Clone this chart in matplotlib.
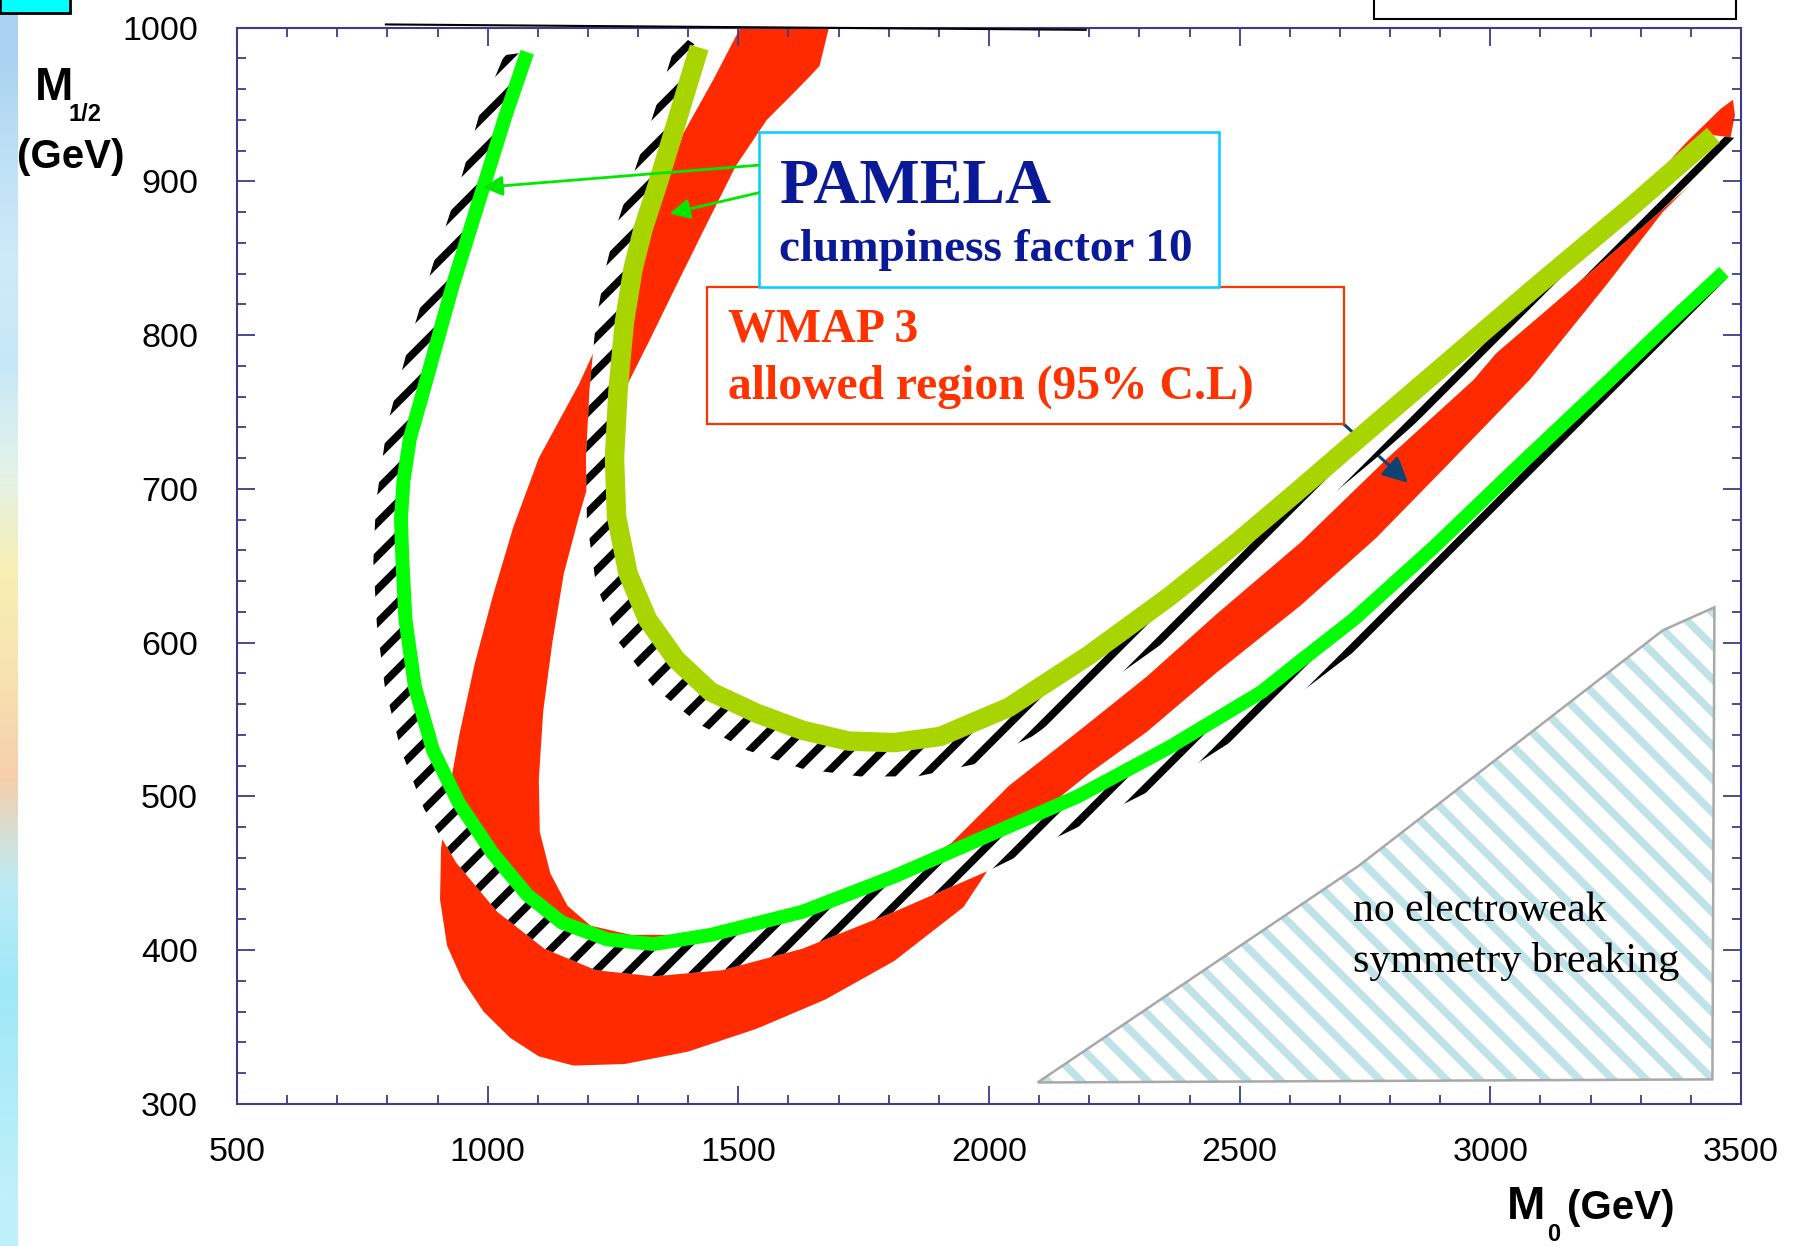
import matplotlib

matplotlib.use("Agg")
import matplotlib.pyplot as plt
import numpy as np
from matplotlib.patches import Polygon, Rectangle
from matplotlib.ticker import MultipleLocator

plt.rcParams["font.family"] = ["Liberation Sans", "DejaVu Sans"]
plt.rcParams["hatch.linewidth"] = 5.5

SERIF = ["Liberation Serif", "DejaVu Serif"]

# --- values (M0, M1/2 in GeV) ---

# PAMELA (clumpiness 10), lower contour - bright green
green_m0 = [1079, 1036, 994, 930, 866, 845, 832, 827, 830, 836, 855, 891, 942, 1010, 1079, 1148,
            1239, 1331, 1445, 1628, 1811, 1994, 2177, 2360, 2544, 2621, 2727, 2887, 3047,
            3239, 3367, 3466]
green_m12 = [984, 943, 899, 832, 757, 733, 705, 680, 653, 615, 571, 530, 496, 463, 436, 418,
             407, 404, 410, 425, 448, 474, 500, 532, 568, 588, 615, 662, 712,
             771, 811, 841]
# outer edge of the hatched band along the green contour
green_hatch_m0 = [1033, 983, 942, 891, 843, 800, 777, 772, 779, 795, 827, 873, 937, 1019,
                  1113, 1216, 1331, 1468, 1628, 1811, 1994, 2177, 2360, 2543, 2740, 2910,
                  3093, 3285, 3459, 3477]
green_hatch_m12 = [982, 943, 896, 846, 794, 742, 690, 653, 612, 571, 530, 492, 457, 425,
                   401, 387, 383, 387, 401, 425, 451, 480, 510, 548, 597, 649,
                   708, 767, 820, 826]

# PAMELA upper contour - yellow green
yellow_m0 = [1422, 1392, 1367, 1340, 1310, 1290, 1273, 1260, 1253, 1257, 1280, 1319, 1376,
             1445, 1537, 1628, 1720, 1811, 1903, 2040, 2200, 2360, 2498, 2621, 2749, 2910,
             3093, 3276, 3445]
yellow_m12 = [987, 955, 928, 899, 869, 843, 809, 764, 720, 682, 645, 615, 589,
              568, 554, 543, 536, 535, 539, 558, 592, 630, 666, 700, 736, 781,
              832, 882, 930]
yellow_hatch_m0 = [1381, 1342, 1315, 1285, 1255, 1235, 1216, 1203, 1196, 1198, 1216, 1262,
                   1331, 1422, 1518, 1628, 1743, 1857, 1971, 2086, 2223, 2383, 2521, 2621,
                   2772, 2932, 3115, 3299, 3459, 3493]
yellow_hatch_m12 = [996, 955, 928, 899, 869, 843, 809, 764, 720, 679, 638, 600,
                    571, 547, 530, 518, 513, 513, 521, 539, 571, 608, 644, 679,
                    720, 766, 817, 869, 915, 928]

# WMAP 3 allowed region (95% C.L.), outline
wmap_m0 = [1509, 1450, 1390, 1324, 1251, 1182, 1102, 1051, 1010, 974, 944, 921, 907,
           905, 919, 949, 992, 1045, 1102, 1171, 1273, 1399, 1537, 1674, 1811, 1949, 2026,
           2109, 2200, 2315, 2452, 2621, 2772, 2910, 3079, 3230, 3344, 3436, 3477, 3488, 3484,
           3459, 3390, 3276, 3115, 2967, 2795, 2621, 2452, 2315, 2177, 2040, 1926, 1811,
           1674, 1537, 1399, 1285, 1205,
           1159, 1125, 1104, 1102, 1111, 1129, 1152, 1182, 1216, 1262, 1319, 1376, 1429,
           1495, 1557, 1603, 1642, 1662, 1683]
wmap_m12 = [1003, 966, 931, 867, 817, 768, 720, 675, 630, 586, 541, 500, 466,
            433, 403, 381, 360, 343, 331, 325, 326, 334, 349, 368, 393, 428, 466,
            491, 515, 542, 580, 624, 668, 714, 771, 832, 880, 910, 925, 943, 953,
            947, 925, 884, 828, 771, 720, 665, 618, 578, 542, 507, 470, 446,
            431, 417, 410, 410, 416,
            429, 450, 477, 511, 556, 600, 645, 682, 720, 757, 794, 832, 867,
            910, 940, 955, 968, 975, 1003]

# no electroweak symmetry breaking
ewsb_m0 = [2097, 2738, 3344, 3447, 3443]
ewsb_m12 = [314, 455, 608, 623, 316]

x_ticks = [500, 1000, 1500, 2000, 2500, 3000, 3500]
y_ticks = [300, 400, 500, 600, 700, 800, 900, 1000]

# slide background strip on the left edge, top -> bottom
strip_colors = ["#a9d2f0", "#bde0f5", "#cdebf8", "#c6e8f6", "#e2f2ea", "#f7efb4",
                "#f8e2b0", "#f6cfac", "#bdebf5", "#9fe8f8", "#aeecf8", "#bff0f9"]

fig = plt.figure(figsize=(17.98, 12.46), dpi=100)

# decorative strip of the slide background
sax = fig.add_axes([0, 0, 18 / 1798, 1])
rgb = np.array([matplotlib.colors.to_rgb(c) for c in strip_colors]).reshape(-1, 1, 3)
sax.imshow(rgb, aspect="auto", interpolation="bilinear")
sax.axis("off")

ax = fig.add_axes([0.13181, 0.11396, 0.83648, 0.86396])
ax.set_xlim(500, 3500)
ax.set_ylim(300, 1000)

# WMAP region
ax.add_patch(Polygon(np.column_stack([wmap_m0, wmap_m12]), closed=True,
                     facecolor="#ff2a00", edgecolor="none", zorder=1))

# EWSB excluded region
ewsb = np.column_stack([ewsb_m0, ewsb_m12])
ax.add_patch(Polygon(ewsb, closed=True, facecolor="none", edgecolor="#bfe3e7",
                     linewidth=0, hatch="\\", zorder=1))
ax.add_patch(Polygon(ewsb, closed=True, fill=False, edgecolor="#a8a8a8",
                     linewidth=1.8, zorder=1.2))

# hatched bands on the outer side of the PAMELA contours
band_g = np.column_stack([green_m0 + green_hatch_m0[::-1],
                          green_m12 + green_hatch_m12[::-1]])
band_y = np.column_stack([yellow_m0 + yellow_hatch_m0[::-1],
                          yellow_m12 + yellow_hatch_m12[::-1]])
for band in (band_g, band_y):
    ax.add_patch(Polygon(band, closed=True, facecolor="white", edgecolor="black",
                         linewidth=0, hatch="/", zorder=3))

# arrow from WMAP box (passes under the PAMELA band)
ax.annotate("", xy=(2836, 704), xytext=(2708, 742), zorder=2.5,
            arrowprops=dict(arrowstyle="-|>", color="#0d4273", lw=2.2,
                            mutation_scale=38, shrinkA=0, shrinkB=0))

ax.plot(yellow_m0, yellow_m12, color="#a8d400", lw=14, solid_capstyle="butt",
        solid_joinstyle="round", zorder=5)
ax.plot(green_m0, green_m12, color="#00ff00", lw=10, solid_capstyle="butt",
        solid_joinstyle="round", zorder=5)

# line at the top edge
ax.plot([797, 2193], [1002, 998.5], color="black", lw=1.5, clip_on=False, zorder=6)

# label boxes
ax.add_patch(Rectangle((1438, 742.1), 1270, 89.4, facecolor="white",
                       edgecolor="#ff3300", lw=1.6, zorder=6))
ax.add_patch(Rectangle((1541, 831.5), 918, 100.7, facecolor="white",
                       edgecolor="#00d0ff", lw=1.8, zorder=7))

ax.text(1582, 886, "PAMELA", family=SERIF, weight="bold", size=46,
        color="#0a1a96", va="baseline", zorder=8)
ax.text(1582, 848, "clumpiness factor 10", family=SERIF, weight="bold", size=34,
        color="#0a1a96", va="baseline", zorder=8)
ax.text(1479, 796, "WMAP 3", family=SERIF, weight="bold", size=34.5,
        color="#ff3300", va="baseline", zorder=7)
ax.text(1479, 759, "allowed region (95% C.L)", family=SERIF, weight="bold", size=34.3,
        color="#ff3300", va="baseline", zorder=7)
ax.text(2726, 419, "no electroweak", family=SERIF, size=30, color="black",
        va="baseline", zorder=7)
ax.text(2726, 386, "symmetry breaking", family=SERIF, size=30.3, color="black",
        va="baseline", zorder=7)

# green arrows from the PAMELA box to its two contours
for head, tail in (((990, 896), (1541, 910.5)), ((1363, 879), (1541, 892.6))):
    ax.annotate("", xy=head, xytext=tail, zorder=8,
                arrowprops=dict(arrowstyle="-|>", color="#00e800", lw=2,
                                mutation_scale=30, shrinkA=0, shrinkB=0))

# axes styling
frame = "#3c3c8a"
for s in ax.spines.values():
    s.set_color(frame)
    s.set_linewidth(1.5)
ax.set_xticks(x_ticks)
ax.set_yticks(y_ticks)
ax.xaxis.set_minor_locator(MultipleLocator(100))
ax.yaxis.set_minor_locator(MultipleLocator(20))
ax.tick_params(which="both", direction="in", top=True, right=True, color=frame,
               width=1.3, labelsize=24.5, labelcolor="black")
ax.tick_params(which="major", length=13)
ax.tick_params(which="minor", length=6.5)
ax.tick_params(axis="y", pad=28)
ax.tick_params(axis="x", pad=24)

# axis titles
W, H = 1798.0, 1246.0
fig.text(35 / W, 1 - 100 / H, "M", size=33, weight="bold", va="baseline")
fig.text(69 / W, 1 - 121 / H, "1/2", size=17, weight="bold", va="baseline")
fig.text(17 / W, 1 - 168 / H, "(GeV)", size=29, weight="bold", va="baseline")
fig.text(1507 / W, 1 - 1219 / H, "M", size=33, weight="bold", va="baseline")
fig.text(1547 / W, 1 - 1241 / H, "0", size=17, weight="bold", va="baseline")
fig.text(1567 / W, 1 - 1219 / H, "(GeV)", size=29, weight="bold", va="baseline")

# slide decorations at the top
fig.patches.append(Rectangle((0, 1 - 13 / H), 70 / W, 20 / H, transform=fig.transFigure,
                             facecolor="#00ffff", edgecolor="black", lw=2))
fig.patches.append(Rectangle((1374 / W, 1 - 19 / H), 362 / W, 30 / H,
                             transform=fig.transFigure, facecolor="white",
                             edgecolor="black", lw=1.5))

fig.savefig("out.png", dpi=100)
